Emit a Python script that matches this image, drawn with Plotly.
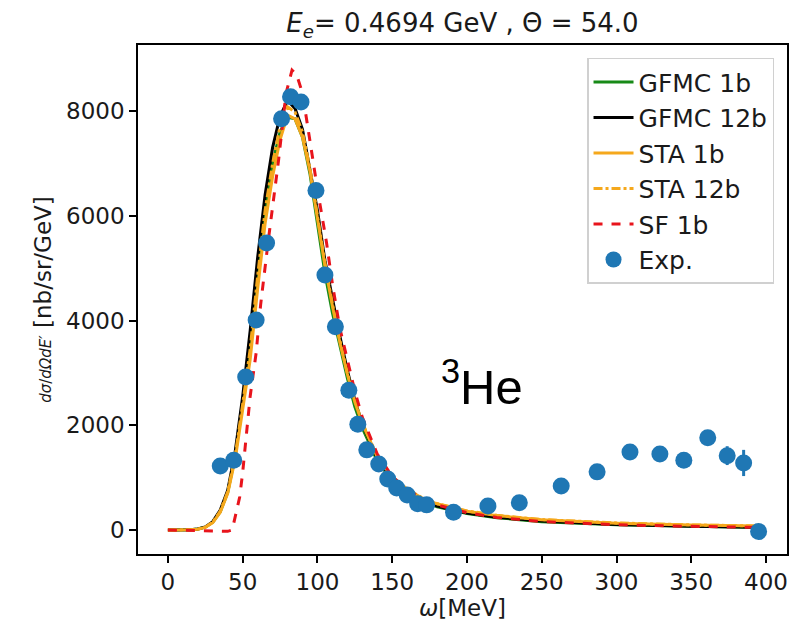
import plotly.graph_objects as go

# Theory curves
omega = [0, 10, 15, 20, 25, 30, 35, 40, 45, 50, 55, 60, 65, 70, 75, 80, 85, 90, 95, 100,
         105, 110, 115, 120, 125, 130, 140, 150, 160, 170, 180, 200, 220, 250, 300, 350, 395]
gfmc_1b = [0, 0, 5, 18, 55, 150, 350, 720, 1420, 2450, 3650, 4950, 6100, 7000, 7600, 7880, 7850, 7500, 6800, 5850,
           4900, 4150, 3500, 2900, 2350, 1950, 1320, 940, 710, 555, 445, 315, 235, 160, 100, 70, 50]
gfmc_12b = [0, 0, 5, 20, 60, 160, 380, 760, 1500, 2550, 3800, 5200, 6400, 7300, 7900, 8200, 8050, 7650, 6900, 6100,
            5150, 4400, 3700, 3050, 2480, 2020, 1370, 970, 730, 570, 455, 325, 245, 170, 105, 72, 52]
sta_1b = [0, 0, 4, 15, 50, 140, 340, 700, 1350, 2300, 3250, 4600, 5850, 6750, 7450, 7920, 7850, 7500, 6850, 5950,
          5050, 4280, 3580, 2980, 2450, 2030, 1400, 1010, 770, 610, 500, 360, 275, 195, 130, 95, 75]
sta_12b = [0, 0, 4, 16, 55, 150, 360, 730, 1420, 2400, 3450, 4850, 6100, 7000, 7700, 8080, 7980, 7600, 6900, 6000,
           5100, 4320, 3620, 3000, 2470, 2050, 1410, 1020, 780, 615, 505, 365, 280, 200, 135, 98, 78]
sf_omega = [0, 10, 20, 30, 40, 43, 46, 48, 50, 55, 59, 62, 67, 74, 79, 83, 86, 90, 97, 100,
            106, 110, 115, 119, 125, 130, 140, 150, 160, 170, 180, 200, 220, 250, 300, 350, 395]
sf_1b = [0, 0, -10, -20, -25, 0, 350, 630, 1100, 2550, 3380, 4300, 5500, 7060, 8340, 8780, 8700, 8340, 7060, 6500,
         5500, 4700, 3850, 3380, 2650, 2150, 1450, 1020, 770, 600, 480, 330, 240, 160, 100, 70, 50]

# Experimental data
exp_omega = [35, 44, 52, 59, 66, 76, 82, 89, 99, 105, 112, 121, 127, 133, 141, 147, 153, 160, 167, 173,
             191, 214, 235, 263, 287, 309, 329, 345, 361, 374, 385, 395]
exp_sigma = [1220, 1330, 2920, 4010, 5480, 7850, 8270, 8170, 6480, 4870, 3880, 2670, 2020, 1530, 1260, 975, 800,
             670, 500, 480, 340, 460, 520, 840, 1110, 1490, 1450, 1330, 1760, 1420, 1280, -30]
exp_err = [40, 40, 50, 60, 70, 80, 80, 80, 70, 60, 50, 40, 40, 30, 30, 30, 25, 25, 20, 20,
           20, 25, 30, 35, 40, 50, 50, 60, 80, 180, 250, 40]

FONT = "DejaVu Sans"
FS = 23
TXT = "#1a1a1a"

fig = go.Figure()
fig.add_trace(go.Scatter(x=omega, y=gfmc_1b, mode="lines", name="GFMC 1b",
                         line=dict(color="#178a17", width=3)))
fig.add_trace(go.Scatter(x=omega, y=gfmc_12b, mode="lines", name="GFMC 12b",
                         line=dict(color="black", width=3)))
fig.add_trace(go.Scatter(x=omega, y=sta_1b, mode="lines", name="STA 1b",
                         line=dict(color="#f5a81c", width=3)))
fig.add_trace(go.Scatter(x=omega, y=sta_12b, mode="lines", name="STA 12b",
                         line=dict(color="#f5a81c", width=3, dash="dashdot")))
fig.add_trace(go.Scatter(x=sf_omega, y=sf_1b, mode="lines", name="SF 1b",
                         line=dict(color="#e8141c", width=3, dash="dash")))
fig.add_trace(go.Scatter(x=exp_omega, y=exp_sigma, mode="markers", name="Exp.",
                         marker=dict(color="#1f77b4", size=17),
                         error_y=dict(type="data", array=exp_err, color="#1f77b4",
                                      thickness=3, width=0)))

fig.add_annotation(x=210, y=2800, xref="x", yref="y", text="<sup>3</sup>He", showarrow=False,
                   font=dict(family="Liberation Sans", size=49, color="black"))

fig.update_layout(
    width=792, height=631,
    margin=dict(l=138, r=3, t=45, b=77),
    paper_bgcolor="white", plot_bgcolor="white",
    font=dict(family=FONT, size=FS, color=TXT),
    title=dict(text="<i>E<sub>e</sub></i>= 0.4694 GeV , Θ = 54.0", x=0.5, xref="paper", xanchor="center",
               y=0.963, yanchor="middle", font=dict(family=FONT, size=26, color=TXT)),
    showlegend=True,
    legend=dict(x=0.98, y=0.975, xanchor="right", yanchor="top",
                bgcolor="rgba(255,255,255,0.8)", bordercolor="#d0d0d0", borderwidth=1.5,
                font=dict(family=FONT, size=25, color=TXT), tracegroupgap=0,
                itemwidth=40),
    xaxis=dict(range=[-20, 414], tickvals=[0, 50, 100, 150, 200, 250, 300, 350, 400],
               showgrid=False, zeroline=False, showline=True, linecolor="black", linewidth=1.5,
               mirror=True, ticks="outside", ticklen=7, tickwidth=1.5, tickcolor="black",
               tickfont=dict(family=FONT, size=FS, color=TXT),
               title=dict(text="<i>ω</i>[MeV]", font=dict(family=FONT, size=FS, color=TXT), standoff=6)),
    yaxis=dict(range=[-458, 9260], tickvals=[0, 2000, 4000, 6000, 8000],
               showgrid=False, zeroline=False, showline=True, linecolor="black", linewidth=1.5,
               mirror=True, ticks="outside", ticklen=7, tickwidth=1.5, tickcolor="black",
               tickfont=dict(family=FONT, size=FS, color=TXT),
               title=dict(text="<span style='font-size:15px'><i>dσ</i>/<i>dΩdE′</i></span> [nb/sr/GeV]",
                          font=dict(family=FONT, size=FS, color=TXT), standoff=8)),
)

fig.write_html("out.html")
